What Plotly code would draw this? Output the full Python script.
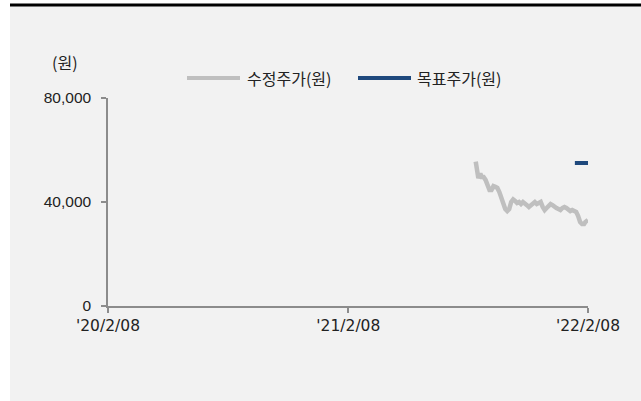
import plotly.graph_objects as go

price_dates = [
    "2021-08-21", "2021-08-23", "2021-08-24", "2021-08-25", "2021-08-27", "2021-08-28",
    "2021-08-30", "2021-09-02", "2021-09-05", "2021-09-08", "2021-09-11", "2021-09-14",
    "2021-09-17", "2021-09-20", "2021-09-23", "2021-09-26", "2021-09-29", "2021-10-02",
    "2021-10-05", "2021-10-08", "2021-10-11", "2021-10-14", "2021-10-17", "2021-10-20",
    "2021-10-23", "2021-10-26", "2021-10-29", "2021-11-01", "2021-11-04", "2021-11-07",
    "2021-11-10", "2021-11-13", "2021-11-16", "2021-11-19", "2021-11-22", "2021-11-25",
    "2021-11-28", "2021-12-01", "2021-12-04", "2021-12-07", "2021-12-10", "2021-12-13",
    "2021-12-16", "2021-12-19", "2021-12-22", "2021-12-25", "2021-12-28", "2021-12-31",
    "2022-01-03", "2022-01-06", "2022-01-09", "2022-01-12", "2022-01-15", "2022-01-18",
    "2022-01-21", "2022-01-24", "2022-01-27", "2022-01-30", "2022-02-02", "2022-02-04",
    "2022-02-08",
]
price_values = [
    55500, 53100, 50800, 49200, 50400, 51000,
    49600, 49600, 48500, 46500, 44600, 44600,
    46100, 45800, 45400, 43800, 41500, 39200,
    37300, 36500, 37300, 40000, 41000, 40400,
    39600, 40000, 39200, 40000, 39600, 38800,
    38100, 38800, 39600, 40000, 39200, 39600,
    40000, 38100, 36900, 37700, 38500, 39200,
    38800, 38100, 37700, 37300, 36900, 37700,
    38100, 37700, 36900, 36500, 36900, 36500,
    36200, 34600, 32300, 31500, 31500, 32300,
    33100,
]
target_dates = ["2022-01-19", "2022-02-08"]
target_values = [55000, 55000]

series_names = ["수정주가(원)", "목표주가(원)"]
series_colors = ["#bfbfbf", "#1f497d"]

x_ticks = ["2020-02-08", "2021-02-08", "2022-02-08"]
x_tick_labels = ["'20/2/08", "'21/2/08", "'22/2/08"]
y_ticks = [0, 40000, 80000]
y_tick_labels = ["0", "40,000", "80,000"]

FONT = "Noto Sans CJK KR"
NUMFONT = "Liberation Sans"
XFONT = "DejaVu Sans"

fig = go.Figure()
fig.add_trace(go.Scatter(
    x=price_dates, y=price_values, mode="lines", name=series_names[0],
    line=dict(color=series_colors[0], width=4.5), showlegend=False,
))
fig.add_trace(go.Scatter(
    x=target_dates, y=target_values, mode="lines", name=series_names[1],
    line=dict(color=series_colors[1], width=4), showlegend=False,
))

L, R, T, B = 108, 53, 98, 95
W, H = 641, 401
pw, ph = W - L - R, H - T - B

def px_x(x):
    return (x - L) / pw

def px_y(y):
    return (H - B - y) / ph

shapes = [
    dict(type="rect", xref="paper", yref="paper", layer="below",
         x0=px_x(10), x1=px_x(645), y0=px_y(405), y1=px_y(5),
         fillcolor="#f2f2f2", line=dict(width=0)),
    dict(type="line", xref="paper", yref="paper", layer="below",
         x0=px_x(10), x1=px_x(645), y0=px_y(5), y1=px_y(5),
         line=dict(color="black", width=3)),
]
annotations = [
    dict(text="(원)", xref="paper", yref="paper", x=px_x(65), y=px_y(62),
         xanchor="center", yanchor="middle", showarrow=False,
         font=dict(family=FONT, size=16, color="#222222")),
]

# legend (drawn in paper space)
legend_line_x = [(187, 240), (358, 411)]
legend_text_x = [245, 415]
legend_y = 78
for (lx0, lx1), tx, name, col in zip(legend_line_x, legend_text_x, series_names, series_colors):
    shapes.append(dict(type="line", xref="paper", yref="paper",
                       x0=px_x(lx0), x1=px_x(lx1), y0=px_y(legend_y), y1=px_y(legend_y),
                       line=dict(color=col, width=4)))
    annotations.append(dict(text=name, xref="paper", yref="paper", x=px_x(tx), y=px_y(legend_y),
                            xanchor="left", yanchor="middle", showarrow=False,
                            font=dict(family=FONT, size=16, color="#222222")))

fig.update_layout(
    width=W, height=H,
    margin=dict(l=L, r=R, t=T, b=B, pad=0),
    paper_bgcolor="white",
    plot_bgcolor="rgba(0,0,0,0)",
    font=dict(family=FONT, size=15, color="#222222"),
    showlegend=False,
    xaxis=dict(
        type="date", range=["2020-02-08", "2022-02-08"],
        tickmode="array", tickvals=x_ticks, ticktext=x_tick_labels,
        showgrid=False, zeroline=False, showline=True, linecolor="#8c8c8c", linewidth=1.5,
        ticks="outside", ticklen=5, tickcolor="#8c8c8c", tickwidth=1.5,
        tickfont=dict(family=XFONT, size=15.5, color="#222222"),
    ),
    yaxis=dict(
        range=[0, 80000], tickmode="array", tickvals=y_ticks, ticktext=y_tick_labels,
        showgrid=False, zeroline=False, showline=True, linecolor="#8c8c8c", linewidth=1.5,
        ticks="outside", ticklen=5, tickcolor="#8c8c8c", tickwidth=1.5,
        ticklabelstandoff=7,
        tickfont=dict(family=NUMFONT, size=15.5, color="#222222"),
    ),
    shapes=shapes,
    annotations=annotations,
)

fig.write_html("out.html")
